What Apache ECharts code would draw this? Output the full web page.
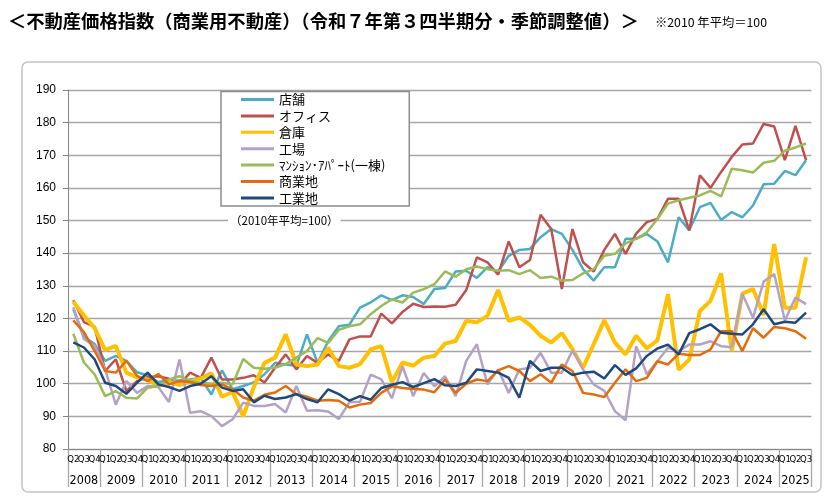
<!DOCTYPE html>
<html>
<head>
<meta charset="utf-8">
<script src="https://cdn.jsdelivr.net/npm/echarts@6/dist/echarts.min.js"></script>
<style>
  html, body { margin: 0; padding: 0; background: #fff; }
  #chart { width: 831px; height: 499px; }
</style>
</head>
<body>
<div id="chart"></div>
<script>
// 2008Q2 〜 2025Q3
const quarters = ['Q2', 'Q3', 'Q4'];
for (let y = 2009; y <= 2024; y++) quarters.push('Q1', 'Q2', 'Q3', 'Q4');
quarters.push('Q1', 'Q2', 'Q3');

const years = ['2008', '2009', '2010', '2011', '2012', '2013', '2014', '2015', '2016',
  '2017', '2018', '2019', '2020', '2021', '2022', '2023', '2024', '2025'];

const yTicks = { min: 80, max: 190, step: 10 };

// 店舗
const shop = [122.8, 114.5, 112.2, 107, 108.5, 107, 103.5, 102.5, 100.5, 101,
  101, 101.3, 101.8, 96.7, 104.1, 98.3, 99.3, 100.4, 102.9, 106.4,
  105.9, 105.5, 115.1, 106.4, 113, 117.6, 118.1, 123.3, 124.9, 127.1,
  125.6, 127.1, 126.6, 124.4, 129, 129.3, 134.4, 134.6, 132.4, 135.7,
  134.4, 139.2, 141, 141.3, 144.9, 147.4, 145.9, 141, 135.1, 131.6,
  135.7, 135.7, 144.4, 144.4, 145.9, 143.6, 137.2, 151, 147, 154.1,
  155.4, 150.2, 152.6, 151, 154.6, 161.1, 161.3, 165.2, 163.9, 168.5];
// オフィス
const office = [125.6, 118.9, 117.5, 103.9, 107.5, 97.7, 100.8, 102, 102.3, 101.5,
  99.8, 103.4, 101.8, 108, 101.3, 101.3, 101.8, 102.6, 100.4, 104.9,
  109, 104.4, 108.5, 106.4, 109, 107, 113.6, 114.5, 114.5, 121.5,
  118.5, 122, 124.5, 123.5, 123.7, 123.6, 124.2, 128.7, 138.7, 137.2,
  133.4, 143.6, 135.7, 137.9, 151.8, 147.4, 129, 147.4, 137.2, 134.4,
  141, 145.9, 139.8, 146, 149.5, 150.5, 156.7, 156.7, 147, 163.9,
  160, 164.9, 169.5, 173.3, 173.6, 179.6, 178.8, 168.5, 179, 168.5];
// 倉庫
const warehouse = [125.1, 120.9, 117.1, 110.3, 111.6, 103.4, 101.9, 101.3, 99.3, 100.6,
  99.6, 100.6, 101.6, 103.2, 96, 97.5, 90, 99, 106.4, 108,
  115.1, 105.9, 105.4, 105.9, 111, 105.4, 104.9, 106, 110.5, 111.5,
  100.5, 106.5, 105.5, 108, 108.5, 112.3, 113.1, 119.3, 118.8, 120.8,
  128.7, 119.3, 120.3, 118, 114.7, 112.6, 115.5, 110.6, 104.9, 112.1,
  119.5, 112.6, 109, 114.7, 110.8, 113.3, 127.4, 104.3, 107.4, 122.3,
  125.4, 133.8, 110, 127.6, 129, 121.1, 142.8, 123.3, 123.3, 138.7];
// 工場
const factory = [123.5, 113.7, 111.6, 104.4, 93.6, 100.8, 97.2, 99.3, 99, 94.4,
  107.4, 91.1, 91.6, 90.1, 87, 89.1, 94.2, 93.2, 93.2, 93.8,
  91.2, 99.3, 91.7, 91.9, 91.5, 89.2, 94.3, 94.5, 102.8, 101.3,
  95.6, 105.4, 96.2, 103.3, 99.2, 102.3, 96.2, 107, 112.1, 99.8,
  104.4, 97.2, 104.4, 104.9, 109.5, 103.4, 103.4, 110.2, 104.4, 99.8,
  97.8, 91.6, 88.8, 111.5, 102.9, 106.9, 111, 110, 112, 112,
  113, 111.5, 111.2, 127.6, 120.2, 131.3, 133.6, 119.4, 126.4, 124.4];
// マンション・アパート（一棟）
const apartment = [115.3, 106.5, 102.9, 96.2, 97.7, 95.7, 95.5, 98.8, 99.3, 101.3,
  102.3, 100.8, 100.3, 100, 100.3, 99.8, 107.6, 104.9, 104.6, 104.9,
  106, 108, 110, 114, 112.5, 116.5, 117.6, 118.2, 121.3, 123.8,
  125.9, 124.9, 127.9, 129, 130.5, 134.4, 132.8, 135.1, 135.9, 135.1,
  134.6, 134.8, 133.6, 134.8, 132.4, 132.8, 131.6, 131.8, 133.8, 135.1,
  139.2, 139.8, 143, 144.4, 146.4, 150.5, 155.2, 156.2, 157, 157.7,
  159.1, 157.4, 165.9, 165.4, 164.7, 167.7, 168.3, 171.4, 172.4, 173.6];
// 商業地
const commercialLand = [119.4, 115.8, 110.1, 103.9, 103.4, 107, 102.4, 100.8, 103, 99.8,
  100.8, 100.5, 99.6, 99.3, 99.8, 98.3, 95.8, 94.8, 96.6, 97.3,
  99.3, 96.8, 96, 94.8, 95, 94.8, 92.7, 93.6, 94.1, 97.2,
  99.2, 98.7, 98.4, 98.2, 97.4, 101.3, 97.2, 100, 101.3, 100.8,
  104.1, 105.4, 103.9, 100.8, 102.9, 100.3, 105.9, 103.9, 97.2, 96.7,
  95.9, 100.3, 104.4, 100.8, 101.8, 106.9, 105.9, 109.2, 108.8, 108.8,
  110.5, 116.1, 116.1, 110, 117, 114.1, 117.4, 117, 116.1, 113.8];
// 工業地
const industrialLand = [112.7, 111.1, 107.5, 100.3, 99.3, 96.9, 100.3, 103.4, 99.8, 99,
  97.8, 99.3, 100, 102.3, 98.8, 97.8, 98.3, 94.3, 96.3, 95.3,
  95.8, 96.8, 95.3, 94.3, 98.3, 96.8, 94.8, 96.2, 95.1, 98.7,
  99.7, 100.5, 99, 100.2, 101.4, 99.5, 99.3, 100.3, 104.4, 103.9,
  103.4, 101.8, 95.7, 107, 103.9, 104.9, 104.9, 102.7, 103.4, 103.7,
  101.6, 105.7, 102.7, 104.7, 108.5, 110.8, 112, 109, 115.5, 116.7,
  118.2, 115.6, 115.3, 115.1, 118.2, 122.8, 118.2, 119, 118.7, 121.8];

const seriesNames = ['店舗', 'オフィス', '倉庫', '工場', 'ﾏﾝｼｮﾝ･ｱﾊﾟｰﾄ(一棟)', '商業地', '工業地'];
const seriesData = [shop, office, warehouse, factory, apartment, commercialLand, industrialLand];
const colors = ['#4bacc6', '#c0504d', '#ffc000', '#b3a2c7', '#9bbb59', '#e46c0a', '#1f497d'];
const widths = [2.5, 2.5, 4, 2.5, 2.5, 2.5, 2.5];

// 年の区切り（四半期の位置）
let bounds = [0];
for (let i = 1; i < quarters.length; i++) {
  if (quarters[i] === 'Q1') bounds.push(i);
}
bounds.push(quarters.length);
let yearCenters = [];
for (let i = 0; i < years.length; i++) {
  yearCenters.push((bounds[i] + bounds[i + 1]) / 2);
}

const chart = echarts.init(document.getElementById('chart'));

const option = {
  animation: false,
  color: colors,
  grid: { left: 68, right: 19.6, top: 90, bottom: 50, containLabel: false },
  legend: {
    data: seriesNames.map(function (name, k) {
      return { name: name, icon: 'rect', itemStyle: { color: colors[k] } };
    }),
    orient: 'vertical',
    left: 221,
    top: 91.5,
    padding: [1, 24, 1, 20],
    itemWidth: 33,
    itemHeight: 3,
    itemGap: 2.4,
    backgroundColor: '#fff',
    borderColor: '#8c8c8c',
    borderWidth: 1.5,
    textStyle: { fontFamily: 'Noto Sans CJK JP', fontSize: 13, color: '#000', lineHeight: 14 }
  },
  xAxis: [
    {
      type: 'category',
      data: quarters,
      boundaryGap: true,
      axisLine: { lineStyle: { color: '#868686', width: 1 } },
      axisTick: { show: false },
      axisLabel: {
        interval: 0,
        margin: 6,
        fontSize: 9.5,
        color: '#000',
        fontFamily: 'Liberation Sans Narrow, DejaVu Sans Condensed'
      }
    },
    {
      type: 'value',
      position: 'bottom',
      min: 0,
      max: quarters.length,
      axisLine: { show: false },
      splitLine: { show: false },
      axisTick: {
        show: true,
        customValues: bounds,
        length: 38,
        lineStyle: { color: '#a6a6a6', width: 1.3 }
      },
      axisLabel: {
        customValues: yearCenters,
        margin: 25,
        fontSize: 12.5,
        color: '#000',
        fontFamily: 'Liberation Sans Narrow, DejaVu Sans Condensed',
        formatter: function (v) {
          let k = yearCenters.indexOf(v);
          return k >= 0 ? years[k] : '';
        }
      }
    }
  ],
  yAxis: {
    type: 'value',
    min: yTicks.min,
    max: yTicks.max,
    interval: yTicks.step,
    axisLine: { show: true, lineStyle: { color: '#868686' } },
    axisTick: { show: true, length: 5, lineStyle: { color: '#868686' } },
    splitLine: { lineStyle: { color: '#a6a6a6', width: 1.4 } },
    axisLabel: { margin: 12, fontSize: 12, color: '#000', fontFamily: 'Liberation Sans' }
  },
  graphic: [
    {
      type: 'rect',
      shape: { x: 22, y: 62, width: 799, height: 430, r: 6 },
      style: { fill: 'none', stroke: '#c4c4c4', lineWidth: 1.5 },
      z: 0
    },
    {
      type: 'text',
      x: 8, y: 21,
      style: {
        text: '＜不動産価格指数（商業用不動産）（令和７年第３四半期分・季節調整値）＞',
        fontFamily: 'Noto Sans CJK JP', fontSize: 18.3, fontWeight: 'bold',
        fill: '#000', verticalAlign: 'middle'
      }
    },
    {
      type: 'text',
      x: 655, y: 22,
      style: {
        text: '※2010 年平均＝100',
        fontFamily: 'Noto Sans CJK JP', fontSize: 12.3, fill: '#000', verticalAlign: 'middle'
      }
    },
    {
      type: 'text',
      x: 228, y: 221,
      z: 50,
      style: {
        text: '（2010年平均=100）',
        fontFamily: 'Noto Sans CJK JP', fontSize: 11.5, fill: '#000',
        verticalAlign: 'middle', backgroundColor: '#fff', padding: [1, 2]
      }
    }
  ],
  series: seriesNames.map(function (name, k) {
    return {
      name: name,
      type: 'line',
      xAxisIndex: 0,
      data: seriesData[k],
      symbol: 'none',
      lineStyle: { width: widths[k], color: colors[k] },
      itemStyle: { color: colors[k] }
    };
  })
};

chart.setOption(option);
</script>
</body>
</html>
